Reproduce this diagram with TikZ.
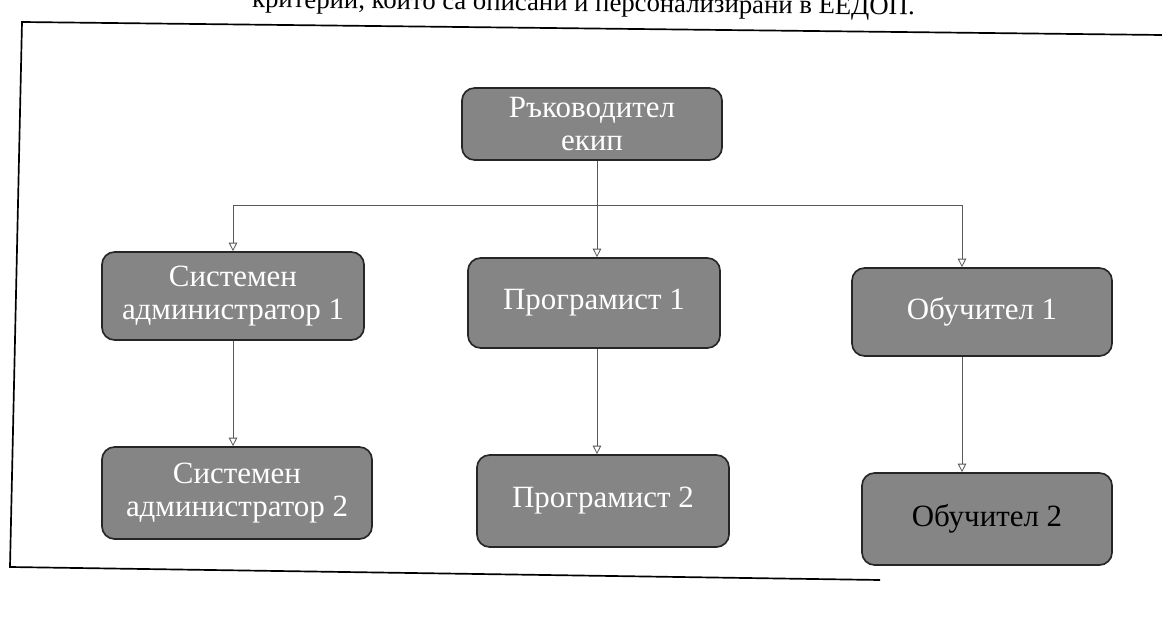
\documentclass[tikz,border=0pt]{standalone}
\usepackage{fontspec}
\setmainfont{Liberation Serif}
\usetikzlibrary{arrows.meta}
\begin{document}
\begin{tikzpicture}[x=0.025cm,y=-0.025cm,
  box/.style={draw=black!85, line width=1.2pt, rounded corners=9pt, fill=black!48, text=white, align=center,
    font=\fontsize{22}{24}\selectfont, inner sep=2pt},
  link/.style={draw=black!65, line width=0.6pt},
  conn/.style={link, -{Triangle[open,length=6pt,width=6pt]}},
  frame/.style={draw=black, line width=1.2pt}]
\useasboundingbox (0,0) rectangle (1162,623);
\node[anchor=base east, rotate=-0.65, inner sep=0pt, font=\fontsize{19}{22}\selectfont] (caption) at (915,15)
  {критерии, които са описани и персонализирани в ЕЕДОП.};
\coordinate (ftr) at (1162,35);
\coordinate (ftl) at (22,22);
\coordinate (fbl) at (10,567);
\coordinate (fbr) at (880,580);
\draw[frame] (ftr) -- (ftl) -- (fbl) -- (fbr);

\node[box, minimum width=6.5cm, minimum height=1.8cm] (lead) at (592,124) {Ръководител\\екип};
\node[box, minimum width=6.55cm, minimum height=2.2cm] (sa1) at (233,296) {Системен\\администратор 1};
\node[box, minimum width=6.3cm, minimum height=2.25cm] (p1) at (594,303) {Програмист 1};
\node[box, minimum width=6.5cm, minimum height=2.2cm] (o1) at (982,312) {Обучител 1};
\node[box, minimum width=6.75cm, minimum height=2.3cm] (sa2) at (237,493) {Системен\\администратор 2};
\node[box, minimum width=6.3cm, minimum height=2.3cm] (p2) at (603,501) {Програмист 2};
\node[box, minimum width=6.25cm, minimum height=2.3cm, text=black] (o2) at (987,519) {Обучител 2};

\coordinate (jl) at (233,205);
\coordinate (jm) at (597,205);
\coordinate (jr) at (962,205);
\draw[link] (lead.south -| jm) -- (jm);
\draw[link] (jl) -- (jr);
\draw[conn] (jl) -- (jl |- sa1.north);
\draw[conn] (jm) -- (jm |- p1.north);
\draw[conn] (jr) -- (jr |- o1.north);
\draw[conn] (jl |- sa1.south) -- (jl |- sa2.north);
\draw[conn] (jm |- p1.south) -- (jm |- p2.north);
\draw[conn] (jr |- o1.south) -- (jr |- o2.north);
\end{tikzpicture}
\end{document}
